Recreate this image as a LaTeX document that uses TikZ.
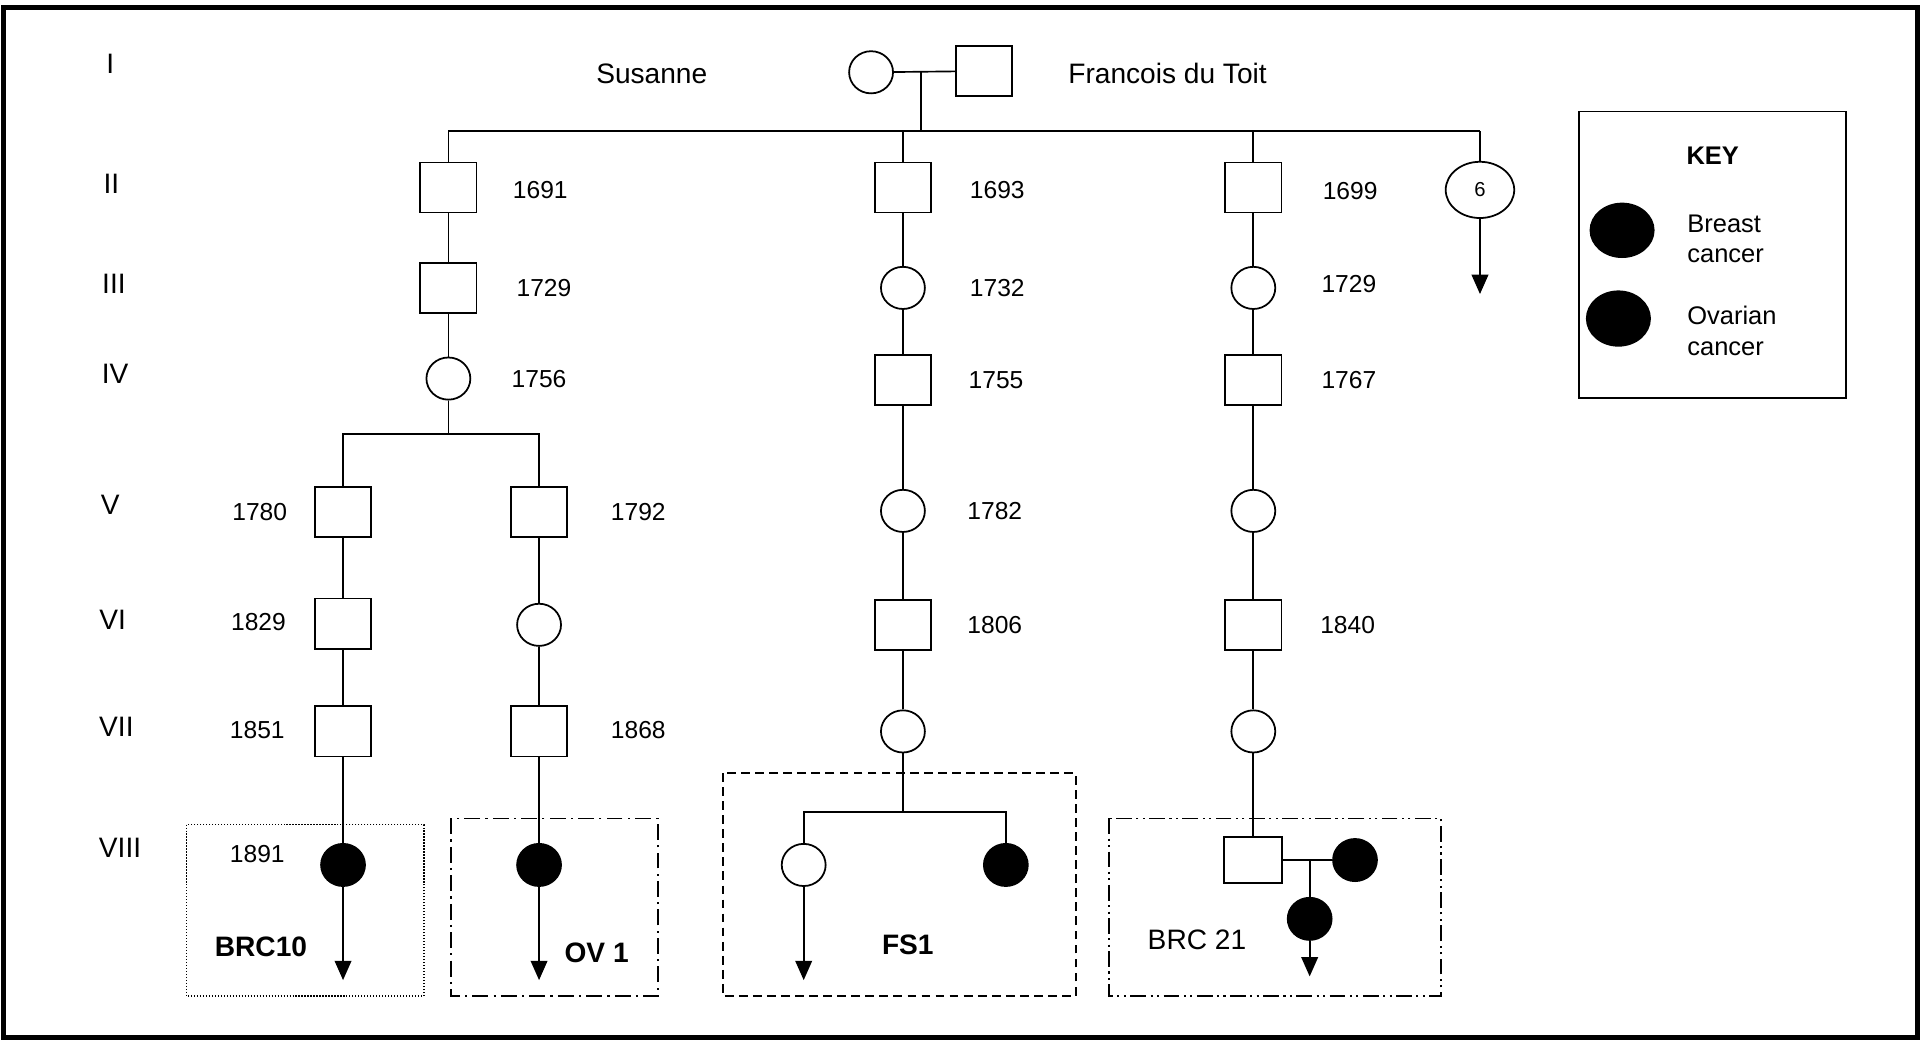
\documentclass[tikz,border=0pt]{standalone}
\usepackage{fontspec}
\setmainfont{Liberation Sans}
\usetikzlibrary{shapes.geometric,arrows.meta}
\tikzset{
  male/.style={draw,rectangle,line width=1pt,minimum width=32pt,minimum height=28.5pt,inner sep=0pt},
  female/.style={draw,ellipse,line width=1pt,minimum width=25pt,minimum height=24pt,inner sep=0pt},
  affected/.style={female,fill=black},
  gen/.style={font=\fontsize{16}{19}\selectfont},
  yr/.style={font=\fontsize{14}{17}\selectfont},
  lbl/.style={font=\fontsize{16}{19}\selectfont\bfseries},
  link/.style={line width=0.95pt},
  desc/.style={line width=0.95pt,-{Triangle[length=11pt,width=9.5pt]}},
  famdot/.style={line width=0.7pt,dash pattern=on 0.7pt off 1pt},
  famdash/.style={line width=1pt,dash pattern=on 5pt off 3pt},
  famdashdot/.style={line width=1pt,dash pattern=on 9pt off 3pt on 1.2pt off 3pt},
  famdashdotdot/.style={line width=1pt,dash pattern=on 9pt off 2.5pt on 1.2pt off 2.5pt on 1.2pt off 2.5pt},
}

\begin{document}
\begin{tikzpicture}[x=0.0245cm,y=-0.0245cm]
\useasboundingbox (0,0) rectangle (1568,850);
\draw[line width=3pt] (3,6) rectangle (1565,847);

\node[gen] (g1) at (90,52) {I};
\node[gen] (g2) at (91,150) {II};
\node[gen] (g3) at (93,232) {III};
\node[gen] (g4) at (94,305) {IV};
\node[gen] (g5) at (90,412) {V};
\node[gen] (g6) at (92,506) {VI};
\node[gen] (g7) at (95,593) {VII};
\node[gen] (g8) at (98,692) {VIII};

\node[female] (mo) at (711,59) {};
\node[male] (fa) at (803,58) {};
\node[gen] (nmo) at (532,60) {Susanne};
\node[gen] (nfa) at (953,60) {Francois du Toit};

\node[male] (a2) at (366,153) {};
\node[male] (b2) at (737,153) {};
\node[male] (c2) at (1023,153) {};
\node[female,minimum width=39pt,minimum height=32pt,font=\fontsize{11.5}{13}\selectfont] (d2) at (1208,155) {6};
\node[male] (a3) at (366,235) {};
\node[female] (b3) at (737,235) {};
\node[female] (c3) at (1023,235) {};
\node[female] (a4) at (366,309) {};
\node[male] (b4) at (737,310) {};
\node[male] (c4) at (1023,310) {};
\node[male] (a5) at (280,418) {};
\node[male] (e5) at (440,418) {};
\node[female] (b5) at (737,417) {};
\node[female] (c5) at (1023,417) {};
\node[male] (a6) at (280,509) {};
\node[female] (e6) at (440,510) {};
\node[male] (b6) at (737,510) {};
\node[male] (c6) at (1023,510) {};
\node[male] (a7) at (280,597) {};
\node[male] (e7) at (440,597) {};
\node[female] (b7) at (737,597) {};
\node[female] (c7) at (1023,597) {};
\node[affected] (a8) at (280,706) {};
\node[affected] (e8) at (440,706) {};
\node[female] (f8) at (656,706) {};
\node[affected] (g8) at (821,706) {};
\node[male,minimum width=33pt,minimum height=26.5pt] (c8) at (1023,702) {};
\node[affected] (s8) at (1106,702) {};
\node[affected] (h8) at (1069,750) {};

\node[yr] (y2a) at (441,155) {1691};
\node[yr] (y2b) at (814,155) {1693};
\node[yr] (y2c) at (1102,156) {1699};
\node[yr] (y3a) at (444,235) {1729};
\node[yr] (y3b) at (814,235) {1732};
\node[yr] (y3c) at (1101,232) {1729};
\node[yr] (y4a) at (440,309) {1756};
\node[yr] (y4b) at (813,310) {1755};
\node[yr] (y4c) at (1101,310) {1767};
\node[yr] (y5a) at (212,418) {1780};
\node[yr] (y5e) at (521,418) {1792};
\node[yr] (y5b) at (812,417) {1782};
\node[yr] (y6a) at (211,508) {1829};
\node[yr] (y6b) at (812,510) {1806};
\node[yr] (y6c) at (1100,510) {1840};
\node[yr] (y7a) at (210,596) {1851};
\node[yr] (y7e) at (521,596) {1868};
\node[yr] (y8a) at (210,697) {1891};

\coordinate (m1) at (752,59);
\coordinate (s1) at (752,107);
\coordinate (j4) at (366,354);
\coordinate (j7) at (737,663);
\coordinate (j8) at (1069,702);
\coordinate (ed2) at (1208,240);
\coordinate (ea8) at (280,800);
\coordinate (ee8) at (440,800);
\coordinate (ef8) at (656,800);
\coordinate (eh8) at (1069,797);

\draw[link] (mo) -- (fa);
\draw[link] (m1) -- (s1);
\draw[link] (a2 |- s1) -- (d2 |- s1);
\draw[link] (a2) -- (a2 |- s1);
\draw[link] (b2) -- (b2 |- s1);
\draw[link] (c2) -- (c2 |- s1);
\draw[link] (d2) -- (d2 |- s1);
\draw[desc] (d2) -- (ed2);

\draw[link] (a2) -- (a3) -- (a4);
\draw[link] (a4) -- (j4);
\draw[link] (a5.north) |- (j4) -| (e5.north);
\draw[link] (a5) -- (a6) -- (a7) -- (a8);
\draw[link] (e5) -- (e6) -- (e7) -- (e8);
\draw[desc] (a8) -- (ea8);
\draw[desc] (e8) -- (ee8);

\draw[link] (b2) -- (b3) -- (b4) -- (b5) -- (b6) -- (b7);
\draw[link] (b7) -- (j7);
\draw[link] (f8.north) |- (j7) -| (g8.north);
\draw[desc] (f8) -- (ef8);

\draw[link] (c2) -- (c3) -- (c4) -- (c5) -- (c6) -- (c7) -- (c8);
\draw[link] (c8) -- (s8);
\draw[link] (j8) -- (h8);
\draw[desc] (h8) -- (eh8);

\draw[famdot] (152,673) rectangle (346,813);
\draw[famdashdot] (368,668) rectangle (537,813);
\draw[famdash] (590,631) rectangle (878,813);
\draw[famdashdotdot] (905,668) rectangle (1176,813);
\node[lbl] (brc10) at (213,773) {BRC10};
\node[lbl] (ov1) at (487,778) {OV 1};
\node[lbl] (fs1) at (741,771) {FS1};
\node[gen] (brc21) at (977,767) {BRC 21};

\draw[line width=1pt] (1289,91) rectangle (1507,325);
\node[font=\fontsize{14.5}{17}\selectfont\bfseries] (key) at (1398,127) {KEY};
\node[affected,minimum width=36pt,minimum height=30.5pt] (kb) at (1324,188) {};
\node[affected,minimum width=36pt,minimum height=31pt] (ko) at (1321,260) {};
\node[anchor=west,align=left,font=\fontsize{14.5}{17.5}\selectfont,inner sep=0pt] (tkb) at (1377,195) {Breast\\cancer};
\node[anchor=west,align=left,font=\fontsize{14.5}{17.5}\selectfont,inner sep=0pt] (tko) at (1377,270) {Ovarian\\cancer};
\end{tikzpicture}
\end{document}
